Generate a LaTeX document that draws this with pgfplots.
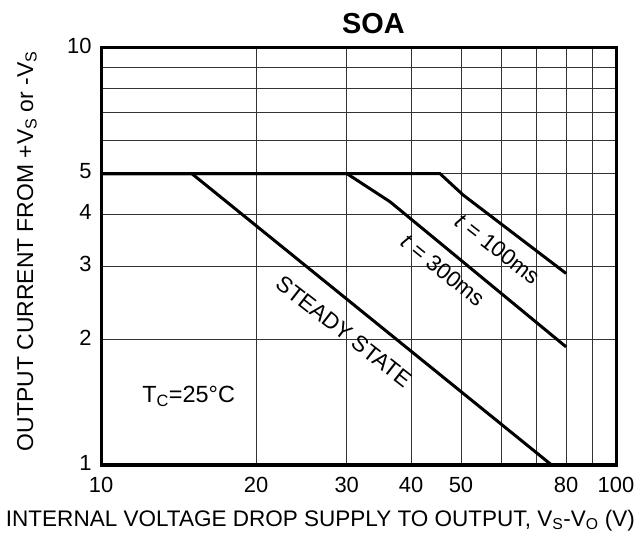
\documentclass[border=0pt]{standalone}
\usepackage{fontspec}
\setmainfont{Liberation Sans}
\usepackage{pgfplots}
\pgfplotsset{compat=1.18}
\begin{document}
\begin{tikzpicture}
\useasboundingbox (-101bp,-68bp) rectangle (540bp,465bp);
\begin{axis}[
  at={(0,0)}, anchor=south west,
  scale only axis, width=515bp, height=417bp,
  xmode=log, ymode=log,
  xmin=10, xmax=100, ymin=1, ymax=10,
  xtick={10,20,30,40,50,80,100}, xticklabels={10,20,30,40,50,80,100},
  minor xtick={60,70,90},
  ytick={1,2,3,4,5,10}, yticklabels={1,2,3,4,5,10},
  minor ytick={6,7,8,9},
  grid=both,
  major grid style={black!80, line width=0.8bp},
  minor grid style={black!80, line width=0.8bp},
  major tick length=0, minor tick length=0,
  axis line style={line width=3bp},
  tick label style={font=\fontsize{22}{25}\selectfont},
  xticklabel style={yshift=-9bp},
  yticklabel style={xshift=-6bp, yshift=2bp},
  clip=false,
]
\addplot[black, line width=3bp] coordinates {(10,5) (15,5) (75,1)};
\addplot[black, line width=3bp] coordinates {(10,5) (30,5) (36.4,4.28) (80,1.92)};
\addplot[black, line width=3bp] coordinates {(10,5) (45.5,5) (50.5,4.44) (80,2.88)};

\node[font=\fontsize{23.5}{27}\selectfont] at (axis cs:14.8,1.46) {T\textsubscript{C}=25°C};
\node[font=\fontsize{22.5}{26}\selectfont, rotate=-38] at (axis cs:29.6,2.09) {STEADY STATE};
\node[font=\fontsize{22.5}{26}\selectfont, rotate=-39] at (axis cs:46.1,2.93) {\textit{t} = 300ms};
\node[font=\fontsize{22.5}{26}\selectfont, rotate=-38] at (axis cs:58.9,3.30) {\textit{t} = 100ms};

\node[font=\fontsize{29}{34}\bfseries\selectfont, anchor=base] at (rel axis cs:0.529,1.0336) {SOA};
\node[font=\fontsize{22.6}{27}\selectfont, anchor=base] at (rel axis cs:0.426,-0.1463) {INTERNAL VOLTAGE DROP SUPPLY TO OUTPUT, V\textsubscript{S}-V\textsubscript{O} (V)};
\node[font=\fontsize{23}{27}\selectfont, anchor=base, rotate=90] at (rel axis cs:-0.132,0.513) {OUTPUT CURRENT FROM +V\textsubscript{S} or -V\textsubscript{S}};
\end{axis}
\end{tikzpicture}
\end{document}
